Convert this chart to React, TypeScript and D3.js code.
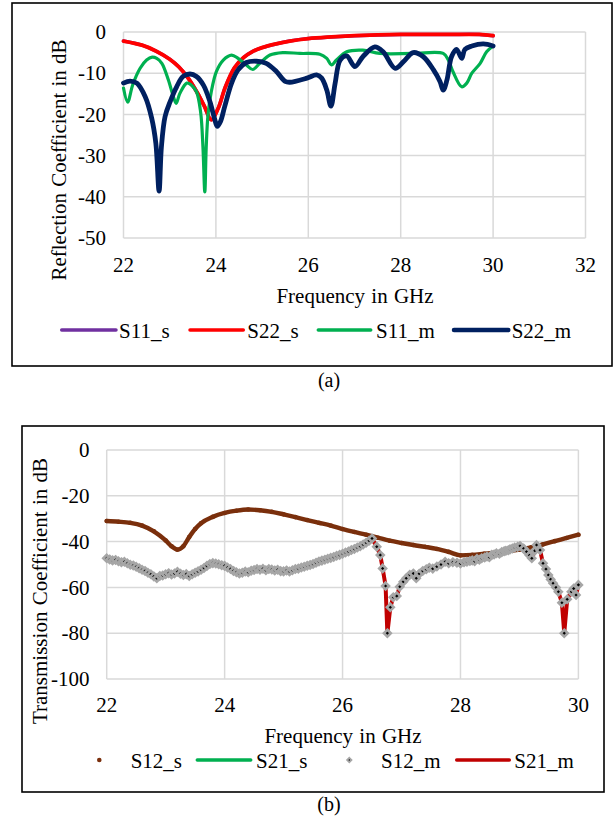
import React from 'react';
import * as d3 from 'd3';

type P = [number, number];

// ---------- Chart (a): reflection coefficients ----------
const topXTicks = [22, 24, 26, 28, 30, 32];
const topYTicks = [0, -10, -20, -30, -40, -50];

const S22_s: P[] = [
  [22.0, -2.2], [22.4, -3.2], [22.7, -4.6], [23.0, -6.6], [23.2, -8.5], [23.4, -11.2],
  [23.6, -14.8], [23.75, -18.0], [23.9, -21.3], [24.05, -18.5], [24.2, -13.5], [24.4, -8.7],
  [24.6, -6.2], [24.8, -4.7], [25.0, -3.8], [25.3, -2.9], [25.6, -2.2], [26.0, -1.6],
  [26.5, -1.2], [27.0, -0.9], [27.5, -0.7], [28.0, -0.6], [29.0, -0.6], [29.7, -0.6], [30.0, -0.9],
];
// S11_s coincides with S22_s (hidden underneath in the reference)
const S11_s: P[] = S22_s;

const S11_m: P[] = [
  [22.0, -13.6], [22.09, -17.0], [22.2, -12.8], [22.36, -8.8], [22.5, -6.8], [22.62, -6.1],
  [22.72, -6.4], [22.83, -7.6], [22.97, -11.6], [23.08, -15.7], [23.14, -17.3], [23.22, -14.9],
  [23.37, -12.4], [23.47, -12.9], [23.58, -14.5], [23.67, -19.5], [23.72, -28], [23.76, -38.8],
  [23.79, -28], [23.83, -20], [23.9, -14.5], [24.01, -9.6], [24.16, -6.8], [24.34, -5.6],
  [24.48, -6.4], [24.66, -8.0], [24.8, -9.1], [24.95, -7.6], [25.17, -5.6], [25.45, -5.0],
  [25.82, -5.2], [26.25, -5.4], [26.4, -6.4], [26.5, -8.0], [26.61, -6.8], [26.83, -4.8],
  [27.18, -4.4], [27.55, -5.2], [28.27, -5.2], [28.92, -5.2], [29.03, -6.8], [29.13, -9.6],
  [29.32, -13.3], [29.43, -12.4], [29.54, -10.0], [29.72, -7.6], [29.86, -4.8], [30.0, -3.4],
];

const S22_m: P[] = [
  [22.0, -12.4], [22.14, -11.9], [22.29, -12.4], [22.47, -15.7], [22.61, -20.9], [22.7, -27],
  [22.77, -38.6], [22.82, -28], [22.9, -20.5], [23.01, -16.9], [23.15, -13.3], [23.29, -10.8],
  [23.44, -10.2], [23.58, -10.8], [23.73, -12.9], [23.87, -16.9], [23.97, -21], [24.03, -22.9],
  [24.1, -21.7], [24.19, -18.1], [24.34, -12.4], [24.48, -9.2], [24.66, -7.4], [24.88, -7.1],
  [25.09, -7.6], [25.31, -9.6], [25.5, -12.0], [25.6, -12.2], [25.97, -11.2], [26.18, -10.4],
  [26.29, -11.2], [26.4, -14.1], [26.49, -18.0], [26.58, -12.5], [26.69, -6.8], [26.83, -5.8],
  [27.01, -8.4], [27.18, -6.0], [27.44, -3.6], [27.62, -4.8], [27.88, -8.8], [28.06, -7.2],
  [28.27, -5.0], [28.49, -6.0], [28.71, -9.2], [28.85, -12.0], [28.92, -14.1], [29.0, -11.7],
  [29.1, -6.0], [29.21, -4.2], [29.32, -6.4], [29.39, -4.2], [29.54, -3.4], [29.79, -2.9], [30.0, -3.4],
];

// ---------- Chart (b): transmission coefficients ----------
const botXTicks = [22, 24, 26, 28, 30];
const botYTicks = [0, -20, -40, -60, -80, -100];

const S12_s: P[] = [
  [22.0, -31.0], [22.2, -31.3], [22.4, -31.8], [22.6, -33.0], [22.8, -35.5], [23.0, -39.5],
  [23.1, -42.0], [23.2, -43.5], [23.3, -42.0], [23.4, -38.0], [23.5, -34.5], [23.6, -32.0],
  [23.8, -29.2], [24.0, -27.5], [24.2, -26.5], [24.4, -26.0], [24.6, -26.3], [24.8, -27.0],
  [25.0, -28.1], [25.2, -29.3], [25.4, -30.6], [25.6, -31.8], [25.8, -33.0], [26.0, -34.5],
  [26.2, -35.8], [26.4, -37.0], [26.6, -38.3], [26.8, -39.6], [27.0, -40.6], [27.2, -41.5],
  [27.4, -42.3], [27.6, -43.2], [27.8, -44.5], [28.0, -46.0], [28.2, -45.8], [28.4, -45.3],
  [28.6, -44.8], [28.8, -44.3], [29.0, -43.5], [29.2, -42.5], [29.4, -41.2], [29.6, -39.8],
  [29.8, -38.4], [30.0, -37.0],
];
// S21_s coincides with S12_s (hidden underneath)
const S21_s: P[] = S12_s;

const S12_m: P[] = [
  [22.0, -47.3], [22.05, -47.8], [22.1, -48.2], [22.15, -48.0], [22.2, -48.6], [22.25, -49.0],
  [22.3, -48.8], [22.35, -49.5], [22.4, -50.1], [22.45, -50.4], [22.5, -51.0], [22.55, -51.6],
  [22.6, -52.3], [22.65, -52.8], [22.7, -53.6], [22.75, -54.3], [22.8, -55.2], [22.85, -56.0],
  [22.9, -55.0], [22.95, -54.8], [23.0, -54.3], [23.05, -53.8], [23.1, -54.4], [23.15, -53.9],
  [23.2, -53.2], [23.25, -54.0], [23.3, -54.6], [23.35, -54.2], [23.4, -55.0], [23.45, -54.3],
  [23.5, -53.6], [23.55, -53.0], [23.6, -52.3], [23.65, -51.5], [23.7, -50.6], [23.75, -49.8],
  [23.8, -49.4], [23.85, -49.6], [23.9, -49.9], [23.95, -50.3], [24.0, -50.6], [24.05, -51.3],
  [24.1, -52.0], [24.15, -52.8], [24.2, -53.4], [24.25, -53.9], [24.3, -53.6], [24.35, -53.1],
  [24.4, -53.4], [24.45, -52.7], [24.5, -52.4], [24.55, -52.0], [24.6, -52.3], [24.65, -51.9],
  [24.7, -52.5], [24.75, -52.0], [24.8, -52.2], [24.85, -52.6], [24.9, -52.3], [24.95, -52.9],
  [25.0, -53.0], [25.05, -52.6], [25.1, -53.1], [25.15, -52.5], [25.2, -52.0], [25.25, -51.8],
  [25.3, -51.3], [25.35, -51.0], [25.4, -50.5], [25.45, -50.2], [25.5, -49.8], [25.55, -49.2],
  [25.6, -48.7], [25.65, -48.3], [25.7, -47.9], [25.75, -47.5], [25.8, -47.1], [25.85, -46.7],
  [25.9, -46.2], [25.95, -45.8], [26.0, -45.3], [26.05, -44.8], [26.1, -44.3], [26.15, -43.7],
  [26.2, -43.2], [26.25, -42.6], [26.3, -42.0], [26.35, -41.3], [26.4, -40.5], [26.45, -39.6],
  [26.5, -38.6], [26.58, -42.2], [26.64, -45.9], [26.68, -51.7], [26.73, -59.4], [26.76, -80],
  [26.81, -68.7], [26.86, -64.3], [26.92, -63.8], [26.97, -59.7], [27.03, -57.5], [27.08, -56.0],
  [27.14, -54.5], [27.2, -53.9], [27.25, -56.0], [27.3, -54.0], [27.36, -52.8], [27.42, -52.1],
  [27.47, -51.4], [27.53, -51.8], [27.6, -50.9], [27.67, -50.0], [27.74, -48.8], [27.8, -49.5],
  [27.87, -49.0], [27.94, -49.2], [28.0, -49.6], [28.06, -49.0], [28.11, -48.8], [28.16, -48.5],
  [28.2, -48.2], [28.24, -48.6], [28.28, -47.5], [28.32, -47.9], [28.36, -47.3], [28.41, -46.9],
  [28.45, -46.5], [28.49, -46.8], [28.53, -45.8], [28.57, -45.6], [28.61, -45.1], [28.66, -45.3],
  [28.7, -44.6], [28.74, -44.2], [28.77, -44.0], [28.81, -43.8], [28.84, -43.4], [28.88, -43.0],
  [28.92, -42.6], [28.97, -42.3], [29.01, -41.9], [29.07, -43.0], [29.12, -44.4], [29.17, -46.0],
  [29.21, -47.3], [29.26, -44.0], [29.29, -41.5], [29.35, -43.7], [29.4, -49.5], [29.45, -52.0],
  [29.49, -54.6], [29.53, -56.5], [29.57, -58.2], [29.62, -60.0], [29.66, -61.9], [29.72, -66.7],
  [29.76, -80], [29.81, -65.2], [29.88, -61.9], [29.92, -60.5], [29.96, -63.3], [30.0, -58.9],
];
// S21_m coincides with S12_m (line underneath the markers)
const S21_m: P[] = S12_m;

const topLegend = ['S11_s', 'S22_s', 'S11_m', 'S22_m'];
const botLegend = ['S12_s', 'S21_s', 'S12_m', 'S21_m'];

const FONT = 'Liberation Serif, Times New Roman, Times, serif';
const FS = 21;
const GRID = '#d9d9d9';
const C = {
  purple: '#7030a0',
  red: '#ff0000',
  green: '#00b050',
  navy: '#002060',
  brown: '#7a2f0c',
  darkred: '#c00000',
  gray: '#a6a6a6',
};

function T(props: any) {
  const { children, ws, size, ...rest } = props;
  return (
    <text
      fontFamily={FONT}
      fontSize={size || FS}
      fill="#000"
      style={ws ? { wordSpacing: ws } : undefined}
      {...rest}
    >
      {children}
    </text>
  );
}

export default function App() {
  // scales for chart (a)
  const xT = d3.scaleLinear().domain([22, 32]).range([123.5, 585.5]);
  const yT = d3.scaleLinear().domain([-50, 0]).range([238, 32]);
  const lineT = d3
    .line<P>()
    .x((d) => xT(d[0]))
    .y((d) => yT(d[1]))
    .curve(d3.curveCatmullRom.alpha(0.5));

  // scales for chart (b)
  const xB = d3.scaleLinear().domain([22, 30]).range([106.7, 578.4]);
  const yB = d3.scaleLinear().domain([-100, 0]).range([679, 450]);
  const lineBsmooth = d3
    .line<P>()
    .x((d) => xB(d[0]))
    .y((d) => yB(d[1]))
    .curve(d3.curveMonotoneX);
  const lineBlin = d3
    .line<P>()
    .x((d) => xB(d[0]))
    .y((d) => yB(d[1]));

  const diamondType = (d3 as any).symbolDiamond2 || d3.symbolDiamond;
  const diamond = d3.symbol().type(diamondType).size(30)() as string;
  const diamondLegend = d3.symbol().type(diamondType).size(12)() as string;

  const topLegendLine: [number, number][] = [[61.7, 116], [190, 243.3], [318.3, 370.7], [454, 508.3]];
  const topLegendTextX = [119, 247.3, 376, 511.7];
  const topLegendColors = [C.purple, C.red, C.green, C.navy];

  return (
    <svg
      width={615}
      height={819}
      style={{ position: 'absolute', left: 0, top: 0, background: '#fff' }}
    >
      <rect x={0} y={0} width={615} height={819} fill="#fff" />

      {/* ================= Chart (a) ================= */}
      <rect x={12} y={3} width={600} height={363} fill="none" stroke="#000" strokeWidth={1.6} />
      <g>
        {topXTicks.map((t) => (
          <line key={'tx' + t} x1={xT(t)} x2={xT(t)} y1={yT(0)} y2={yT(-50)} stroke={GRID} strokeWidth={1.5} />
        ))}
        {topYTicks.map((t) => (
          <line key={'ty' + t} x1={xT(22)} x2={xT(32)} y1={yT(t)} y2={yT(t)} stroke={GRID} strokeWidth={1.5} />
        ))}
      </g>
      <g>
        {topYTicks.map((t) => (
          <T key={'tyl' + t} x={106} y={yT(t)} dy="0.34em" textAnchor="end">
            {t}
          </T>
        ))}
        {topXTicks.map((t) => (
          <T key={'txl' + t} x={xT(t)} y={272} textAnchor="middle">
            {t}
          </T>
        ))}
        <T x={355} y={303} textAnchor="middle" ws={1}>
          Frequency in GHz
        </T>
        <T transform="translate(66,160) rotate(-90)" textAnchor="middle" ws={1}>
          Reflection Coefficient in dB
        </T>
        <T x={329} y={387} textAnchor="middle" size={20}>
          (a)
        </T>
      </g>
      <g fill="none" strokeLinejoin="round" strokeLinecap="round">
        <path d={lineT(S11_s) || ''} stroke={C.purple} strokeWidth={3.5} />
        <path d={lineT(S22_s) || ''} stroke={C.red} strokeWidth={3.8} />
        <path d={lineT(S11_m) || ''} stroke={C.green} strokeWidth={3.2} />
        <path d={lineT(S22_m) || ''} stroke={C.navy} strokeWidth={4.8} />
      </g>
      <g>
        {topLegend.map((name, i) => (
          <g key={name}>
            <line
              x1={topLegendLine[i][0]}
              x2={topLegendLine[i][1]}
              y1={330}
              y2={330}
              stroke={topLegendColors[i]}
              strokeWidth={i === 3 ? 4.5 : 3.5}
              strokeLinecap="round"
            />
            <T x={topLegendTextX[i]} y={338.3}>
              {name}
            </T>
          </g>
        ))}
      </g>

      {/* ================= Chart (b) ================= */}
      <rect x={22} y={426} width={582} height={366} fill="none" stroke="#000" strokeWidth={1.6} />
      <g>
        {botXTicks.map((t) => (
          <line key={'bx' + t} x1={xB(t)} x2={xB(t)} y1={yB(0)} y2={yB(-100)} stroke={GRID} strokeWidth={1.5} />
        ))}
        {botYTicks.map((t) => (
          <line key={'by' + t} x1={xB(22)} x2={xB(30)} y1={yB(t)} y2={yB(t)} stroke={GRID} strokeWidth={1.5} />
        ))}
      </g>
      <g>
        {botYTicks.map((t) => (
          <T key={'byl' + t} x={89.5} y={yB(t)} dy="0.34em" textAnchor="end">
            {t}
          </T>
        ))}
        {botXTicks.map((t) => (
          <T key={'bxl' + t} x={xB(t)} y={712} textAnchor="middle">
            {t}
          </T>
        ))}
        <T x={343} y={743} textAnchor="middle" ws={1}>
          Frequency in GHz
        </T>
        <T transform="translate(47,591) rotate(-90)" textAnchor="middle" ws={1}>
          Transmission Coefficient in dB
        </T>
        <T x={329} y={811} textAnchor="middle" size={20}>
          (b)
        </T>
      </g>
      <g fill="none" strokeLinejoin="round" strokeLinecap="round">
        <path d={lineBsmooth(S21_s) || ''} stroke={C.green} strokeWidth={2.5} />
        <path d={lineBsmooth(S12_s) || ''} stroke={C.brown} strokeWidth={4.4} />
      </g>
      <g fill={C.brown}>
        {S12_s.map((d, i) => (
          <circle key={'bs' + i} cx={xB(d[0])} cy={yB(d[1])} r={2.3} />
        ))}
      </g>
      <path d={lineBlin(S21_m) || ''} fill="none" stroke={C.darkred} strokeWidth={4} strokeLinejoin="round" />
      <g>
        {S12_m.map((d, i) => (
          <path
            key={'bm' + i}
            d={diamond}
            transform={`translate(${xB(d[0])},${yB(d[1])})`}
            fill="#000"
            stroke={C.gray}
            strokeWidth={2.6}
          />
        ))}
      </g>
      <g>
        {/* S12_s legend: dot marker */}
        <circle cx={99.3} cy={760} r={2.3} fill={C.brown} />
        <T x={130.7} y={767.7}>
          {botLegend[0]}
        </T>
        {/* S21_s legend: green line */}
        <line x1={197.3} x2={250.7} y1={760} y2={760} stroke={C.green} strokeWidth={3.5} strokeLinecap="round" />
        <T x={256} y={767.7}>
          {botLegend[1]}
        </T>
        {/* S12_m legend: diamond marker */}
        <path d={diamondLegend} transform="translate(349.3,760)" fill="#000" stroke={C.gray} strokeWidth={1.8} />
        <T x={381} y={767.7}>
          {botLegend[2]}
        </T>
        {/* S21_m legend: dark red line */}
        <line x1={456.7} x2={509.3} y1={760} y2={760} stroke={C.darkred} strokeWidth={3.5} strokeLinecap="round" />
        <T x={514.3} y={767.7}>
          {botLegend[3]}
        </T>
      </g>
    </svg>
  );
}
